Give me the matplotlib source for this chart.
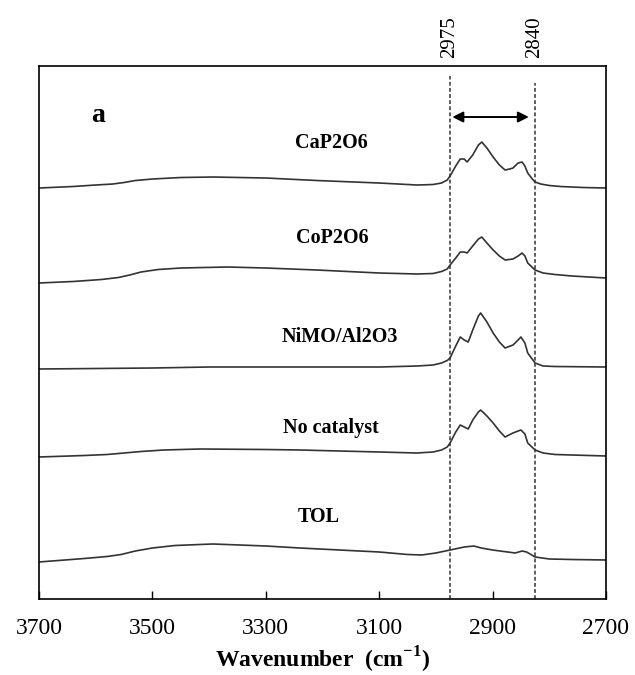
import matplotlib
matplotlib.use("Agg")
import matplotlib.pyplot as plt

plt.rcParams['font.family'] = ['Liberation Serif', 'DejaVu Serif']
plt.rcParams['mathtext.fontset'] = 'custom'
plt.rcParams['mathtext.rm'] = 'Liberation Serif'
plt.rcParams['mathtext.bf'] = 'Liberation Serif:bold'

# -------------------------
# DATOS LEÍDOS DEL ESPECTRO (absorbancia apilada, unidades arbitrarias)
# -------------------------
wn_cap = [3700, 3640, 3600, 3570, 3550, 3530, 3500, 3450, 3393, 3300, 3210, 3100,
          3033, 3005, 2990, 2980, 2975, 2965, 2957, 2950, 2945, 2935, 2925, 2919,
          2910, 2899, 2888, 2878, 2870, 2864, 2855, 2848, 2843, 2838, 2830, 2825,
          2815, 2800, 2780, 2740, 2700]
abs_cap = [411, 412.5, 414, 415, 416.5, 418.5, 420, 421.5, 422, 421, 418.5, 416,
           414, 414.5, 416, 419, 423, 433, 440, 440, 437, 444, 454, 457,
           451, 442, 434, 429, 430, 431, 436, 437, 433, 426, 420, 417,
           415, 413.5, 412.5, 411.5, 411]

wn_cop = [3700, 3640, 3590, 3560, 3540, 3520, 3490, 3450, 3368, 3300, 3210, 3100,
          3033, 3005, 2990, 2980, 2975, 2965, 2957, 2950, 2945, 2935, 2925, 2919,
          2910, 2899, 2888, 2878, 2864, 2855, 2848, 2843, 2838, 2825, 2811, 2790,
          2760, 2700]
abs_cop = [316, 317.5, 319.5, 321.5, 324, 327, 329.5, 331, 332, 331, 329, 326,
           325, 325.5, 327.5, 330, 334, 341, 347, 347, 346, 353, 360, 362,
           356, 349, 343, 339, 340, 343, 346, 343, 336, 329, 326, 324.5,
           323, 321]

wn_nimo = [3700, 3500, 3400, 3300, 3200, 3100, 3033, 3005, 2990, 2980, 2975, 2965,
           2957, 2950, 2943, 2935, 2925, 2921, 2910, 2899, 2888, 2878, 2864, 2855,
           2850, 2843, 2838, 2825, 2811, 2790, 2700]
abs_nimo = [230, 231, 232, 232, 232, 232, 233, 234, 236, 238.5, 241, 253,
            262, 259, 257, 269, 283, 286, 277, 266, 257, 251, 254, 259,
            262, 256, 246, 236, 233, 232.5, 232]

wn_noc = [3700, 3620, 3580, 3550, 3520, 3480, 3416, 3300, 3240, 3100, 3033, 3005,
          2990, 2980, 2975, 2965, 2957, 2950, 2943, 2935, 2925, 2921, 2910, 2899,
          2888, 2878, 2864, 2855, 2850, 2843, 2838, 2825, 2811, 2790, 2700]
abs_noc = [142, 143.5, 144.5, 146, 147.5, 149, 150, 149.5, 149, 147, 146, 147,
           149, 152, 156, 167, 174, 172, 170, 179, 187, 189, 183, 176,
           168, 162, 166, 168, 169, 165, 156, 149, 146, 144.5, 143]

wn_tol = [3700, 3620, 3580, 3555, 3530, 3500, 3460, 3416, 3393, 3300, 3240, 3100,
          3050, 3025, 3000, 2975, 2950, 2933, 2920, 2900, 2860, 2848, 2840, 2825,
          2800, 2760, 2700]
abs_tol = [37, 40.5, 42.5, 44.5, 48, 51, 53.5, 54.5, 55, 53, 51, 47,
           44.5, 44, 46, 49, 52, 53, 51, 49, 46, 48, 47, 42,
           40, 39.5, 39]

series_wn = [wn_cap, wn_cop, wn_nimo, wn_noc, wn_tol]
series_abs = [abs_cap, abs_cop, abs_nimo, abs_noc, abs_tol]
nombres = ["CaP2O6", "CoP2O6", "NiMO/Al2O3", "No catalyst", "TOL"]
etiqueta_x = [3185, 3183, 3170, 3185, 3207]
etiqueta_y = [456, 361, 262, 171, 82]

bandas = [2975, 2826]
bandas_txt = ["2975", "2840"]
ticks_x = [3700, 3500, 3300, 3100, 2900, 2700]

# -------------------------
# FIGURA
# -------------------------
fig = plt.figure(figsize=(6.35, 6.75), dpi=100)
ax = fig.add_axes([0.0614, 0.1126, 0.8929, 0.7896])

for wn, ab in zip(series_wn, series_abs):
    ax.plot(wn, ab, color="#333333", lw=1.2, solid_joinstyle="round")

for nom, xt, yt in zip(nombres, etiqueta_x, etiqueta_y):
    ax.text(xt, yt, nom, ha="center", va="center", fontsize=14.5, fontweight="bold")

ax.set_xlim(3700, 2700)
ax.set_ylim(0, 533)

# líneas de la banda C-H
ax.axvline(bandas[0], ymin=0, ymax=0.981, color="#333333", ls=(0, (2.5, 1.5)), lw=1.1)
ax.axvline(bandas[1], ymin=0, ymax=0.968, color="#333333", ls=(0, (2.5, 1.5)), lw=1.1)
for b, t in zip(bandas, bandas_txt):
    ax.text(b, 1.015, t, transform=ax.get_xaxis_transform(), rotation=90,
            ha="center", va="bottom", fontsize=15)

ax.annotate("", xy=(2836, 482), xytext=(2971, 482),
            arrowprops=dict(arrowstyle="<|-|>", color="black", lw=1.4,
                            mutation_scale=16, shrinkA=0, shrinkB=0))

ax.text(3595, 484, "a", ha="center", va="center", fontsize=20, fontweight="bold")

ax.set_xticks(ticks_x)
ax.set_yticks([])
ax.tick_params(axis="x", direction="in", length=6, width=1, labelsize=17, pad=14)
for s in ax.spines.values():
    s.set_linewidth(1.2)
ax.set_xlabel(r"Wavenumber  (cm$^{\mathbf{-1}}$)", fontsize=17, fontweight="bold", labelpad=4)

fig.savefig("out.png", dpi=100)
